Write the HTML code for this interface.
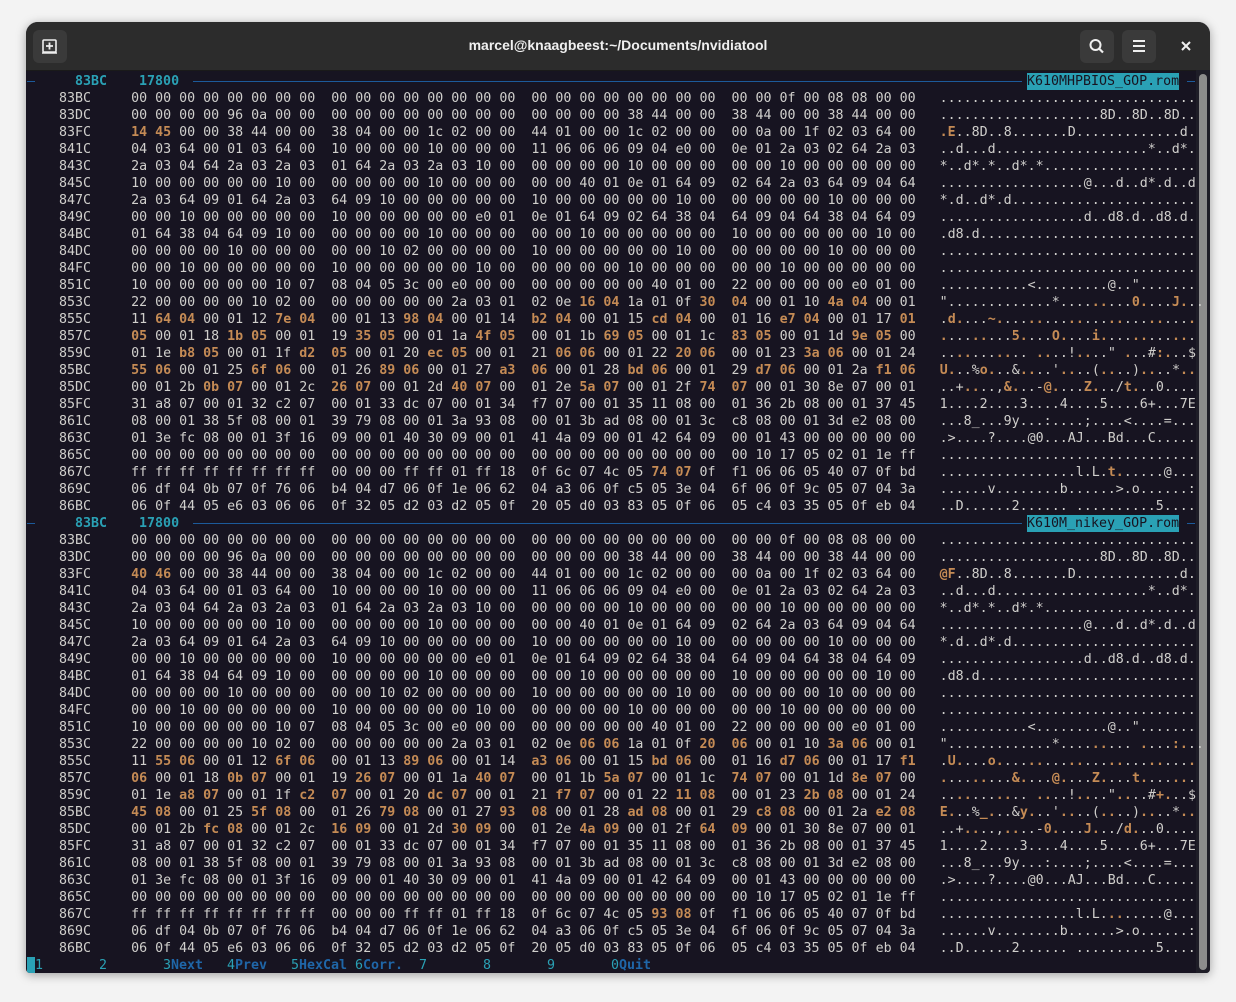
<!DOCTYPE html>
<html><head><meta charset="utf-8"><style>
html,body{margin:0;padding:0;background:#f3f3f3;width:1236px;height:1002px;overflow:hidden;}
#win{position:absolute;left:26px;top:22px;width:1184px;height:951px;background:#171421;border-radius:12px 12px 4px 4px;overflow:hidden;box-shadow:0 2px 10px rgba(0,0,0,.35);}
#tb{position:absolute;left:0;top:0;width:1184px;height:48px;background:#2c2c2c;border-bottom:1px solid #1a1a1a;}
#title{position:absolute;left:0;right:0;top:15px;text-align:center;color:#f0f0f0;font:bold 14px "Liberation Sans",sans-serif;}
.btn{position:absolute;top:8px;width:34px;height:33px;background:#3a3a3a;border-radius:6px;}
pre{position:absolute;left:1px;top:51px;margin:0;font-family:"DejaVu Sans Mono","Liberation Mono",monospace;font-size:13.3px;line-height:17px;color:#d0cfcc;white-space:pre;}
b{color:#c58b55;font-weight:bold;}
.hd{position:absolute;font-family:"DejaVu Sans Mono","Liberation Mono",monospace;font-size:13.3px;line-height:17px;font-weight:bold;color:#2aa1b5;white-space:pre;}
.ln{position:absolute;height:1px;background:#1c5a9a;}
.fn{position:absolute;font-family:"DejaVu Sans Mono","Liberation Mono",monospace;font-size:13.3px;line-height:17px;background:#2aa1b5;color:#171421;white-space:pre;}
.fk{position:absolute;top:935px;font-family:"DejaVu Sans Mono","Liberation Mono",monospace;font-size:13.3px;line-height:17px;white-space:pre;color:#2aa1b5;}
.fk i{font-style:normal;font-weight:bold;color:#1f66a8;}
</style></head><body>
<div id="win">
<div id="tb">
<div class="btn" style="left:7px;"><svg width="34" height="33"><rect x="10" y="10" width="13" height="12" rx="1" fill="none" stroke="#eee" stroke-width="1.6"/><line x1="9" y1="23" x2="24" y2="23" stroke="#eee" stroke-width="1.6"/><line x1="16.5" y1="12.5" x2="16.5" y2="19.5" stroke="#eee" stroke-width="1.8"/><line x1="13" y1="16" x2="20" y2="16" stroke="#eee" stroke-width="1.8"/></svg></div>
<div id="title">marcel@knaagbeest:~/Documents/nvidiatool</div>
<div class="btn" style="left:1054px;"><svg width="34" height="33"><circle cx="15.5" cy="15" r="5" fill="none" stroke="#eee" stroke-width="2"/><line x1="19" y1="18.5" x2="23" y2="22.5" stroke="#eee" stroke-width="2.2"/></svg></div>
<div class="btn" style="left:1096px;"><svg width="34" height="33"><rect x="11" y="10" width="12" height="2" fill="#eee"/><rect x="11" y="15" width="12" height="2" fill="#eee"/><rect x="11" y="20" width="12" height="2" fill="#eee"/></svg></div>
<svg style="position:absolute;left:1153px;top:17px" width="14" height="14"><line x1="3" y1="3" x2="11" y2="11" stroke="#eee" stroke-width="2"/><line x1="11" y1="3" x2="3" y2="11" stroke="#eee" stroke-width="2"/></svg>
</div>

<div class="ln" style="left:1px;top:59px;width:8px"></div>
<div class="hd" style="left:49px;top:51px">83BC    17800</div>
<div class="ln" style="left:167px;top:59px;width:829px"></div>
<div class="fn" style="left:1001px;top:51px">K610MHPBIOS_GOP.rom</div>
<div class="ln" style="left:1161px;top:59px;width:8px"></div>

<div class="ln" style="left:1px;top:501px;width:8px"></div>
<div class="hd" style="left:49px;top:493px">83BC    17800</div>
<div class="ln" style="left:167px;top:501px;width:829px"></div>
<div class="fn" style="left:1001px;top:493px">K610M_nikey_GOP.rom</div>
<div class="ln" style="left:1161px;top:501px;width:8px"></div>

<div style="position:absolute;left:1170px;top:48px;width:14px;height:903px;background:#1e1d27"></div>
<div style="position:absolute;left:1173px;top:52px;width:8px;height:896px;background:#8c8c8c;border-radius:4px"></div>

<pre>

    83BC     00 00 00 00 00 00 00 00  00 00 00 00 00 00 00 00  00 00 00 00 00 00 00 00  00 00 0f 00 08 08 00 00   ................................
    83DC     00 00 00 00 96 0a 00 00  00 00 00 00 00 00 00 00  00 00 00 00 38 44 00 00  38 44 00 00 38 44 00 00   ....................8D..8D..8D..
    83FC     <b>14 45</b> 00 00 38 44 00 00  38 04 00 00 1c 02 00 00  44 01 00 00 1c 02 00 00  00 0a 00 1f 02 03 64 00   <b>.E</b>..8D..8.......D.............d.
    841C     04 03 64 00 01 03 64 00  10 00 00 00 10 00 00 00  11 06 06 06 09 04 e0 00  0e 01 2a 03 02 64 2a 03   ..d...d...................*..d*.
    843C     2a 03 04 64 2a 03 2a 03  01 64 2a 03 2a 03 10 00  00 00 00 00 10 00 00 00  00 00 10 00 00 00 00 00   *..d*.*..d*.*...................
    845C     10 00 00 00 00 00 10 00  00 00 00 00 10 00 00 00  00 00 40 01 0e 01 64 09  02 64 2a 03 64 09 04 64   ..................@...d..d*.d..d
    847C     2a 03 64 09 01 64 2a 03  64 09 10 00 00 00 00 00  10 00 00 00 00 00 10 00  00 00 00 00 10 00 00 00   *.d..d*.d.......................
    849C     00 00 10 00 00 00 00 00  10 00 00 00 00 00 e0 01  0e 01 64 09 02 64 38 04  64 09 04 64 38 04 64 09   ..................d..d8.d..d8.d.
    84BC     01 64 38 04 64 09 10 00  00 00 00 00 10 00 00 00  00 00 10 00 00 00 00 00  10 00 00 00 00 00 10 00   .d8.d...........................
    84DC     00 00 00 00 10 00 00 00  00 00 10 02 00 00 00 00  10 00 00 00 00 00 10 00  00 00 00 00 10 00 00 00   ................................
    84FC     00 00 10 00 00 00 00 00  10 00 00 00 00 00 10 00  00 00 00 00 10 00 00 00  00 00 10 00 00 00 00 00   ................................
    851C     10 00 00 00 00 00 10 07  08 04 05 3c 00 e0 00 00  00 00 00 00 00 40 01 00  22 00 00 00 00 e0 01 00   ...........&lt;.........@..".......
    853C     22 00 00 00 00 10 02 00  00 00 00 00 00 2a 03 01  02 0e <b>16 04</b> 1a 01 0f <b>30</b>  <b>04</b> 00 01 10 <b>4a 04</b> 00 01   ".............*....<b>..</b>...<b>0</b><b>.</b>...<b>J.</b>..
    855C     11 <b>64 04</b> 00 01 12 <b>7e 04</b>  00 01 13 <b>98 04</b> 00 01 14  <b>b2 04</b> 00 01 15 <b>cd 04</b> 00  01 16 <b>e7 04</b> 00 01 17 <b>01</b>   .<b>d.</b>...<b>~.</b>...<b>..</b>...<b>..</b>...<b>..</b>...<b>..</b>...<b>.</b>
    857C     <b>05</b> 00 01 18 <b>1b 05</b> 00 01  19 <b>35 05</b> 00 01 1a <b>4f 05</b>  00 01 1b <b>69 05</b> 00 01 1c  <b>83 05</b> 00 01 1d <b>9e 05</b> 00   <b>.</b>...<b>..</b>...<b>5.</b>...<b>O.</b>...<b>i.</b>...<b>..</b>...<b>..</b>.
    859C     01 1e <b>b8 05</b> 00 01 1f <b>d2</b>  <b>05</b> 00 01 20 <b>ec 05</b> 00 01  21 <b>06 06</b> 00 01 22 <b>20 06</b>  00 01 23 <b>3a 06</b> 00 01 24   ..<b>..</b>...<b>.</b><b>.</b>.. <b>..</b>..!<b>..</b>.."<b> .</b>..#<b>:.</b>..$
    85BC     <b>55 06</b> 00 01 25 <b>6f 06</b> 00  01 26 <b>89 06</b> 00 01 27 <b>a3</b>  <b>06</b> 00 01 28 <b>bd 06</b> 00 01  29 <b>d7 06</b> 00 01 2a <b>f1 06</b>   <b>U.</b>..%<b>o.</b>..&amp;<b>..</b>..'<b>.</b><b>.</b>..(<b>..</b>..)<b>..</b>..*<b>..</b>
    85DC     00 01 2b <b>0b 07</b> 00 01 2c  <b>26 07</b> 00 01 2d <b>40 07</b> 00  01 2e <b>5a 07</b> 00 01 2f <b>74</b>  <b>07</b> 00 01 30 8e 07 00 01   ..+<b>..</b>..,<b>&amp;.</b>..-<b>@.</b>...<b>Z.</b>../<b>t</b><b>.</b>..0....
    85FC     31 a8 07 00 01 32 c2 07  00 01 33 dc 07 00 01 34  f7 07 00 01 35 11 08 00  01 36 2b 08 00 01 37 45   1....2....3....4....5....6+...7E
    861C     08 00 01 38 5f 08 00 01  39 79 08 00 01 3a 93 08  00 01 3b ad 08 00 01 3c  c8 08 00 01 3d e2 08 00   ...8_...9y...:....;....&lt;....=...
    863C     01 3e fc 08 00 01 3f 16  09 00 01 40 30 09 00 01  41 4a 09 00 01 42 64 09  00 01 43 00 00 00 00 00   .&gt;....?....@0...AJ...Bd...C.....
    865C     00 00 00 00 00 00 00 00  00 00 00 00 00 00 00 00  00 00 00 00 00 00 00 00  00 10 17 05 02 01 1e ff   ................................
    867C     ff ff ff ff ff ff ff ff  00 00 00 ff ff 01 ff 18  0f 6c 07 4c 05 <b>74 07</b> 0f  f1 06 06 05 40 07 0f bd   .................l.L.<b>t.</b>.....@...
    869C     06 df 04 0b 07 0f 76 06  b4 04 d7 06 0f 1e 06 62  04 a3 06 0f c5 05 3e 04  6f 06 0f 9c 05 07 04 3a   ......v........b......&gt;.o......:
    86BC     06 0f 44 05 e6 03 06 06  0f 32 05 d2 03 d2 05 0f  20 05 d0 03 83 05 0f 06  05 c4 03 35 05 0f eb 04   ..D......2...... ..........5....

    83BC     00 00 00 00 00 00 00 00  00 00 00 00 00 00 00 00  00 00 00 00 00 00 00 00  00 00 0f 00 08 08 00 00   ................................
    83DC     00 00 00 00 96 0a 00 00  00 00 00 00 00 00 00 00  00 00 00 00 38 44 00 00  38 44 00 00 38 44 00 00   ....................8D..8D..8D..
    83FC     <b>40 46</b> 00 00 38 44 00 00  38 04 00 00 1c 02 00 00  44 01 00 00 1c 02 00 00  00 0a 00 1f 02 03 64 00   <b>@F</b>..8D..8.......D.............d.
    841C     04 03 64 00 01 03 64 00  10 00 00 00 10 00 00 00  11 06 06 06 09 04 e0 00  0e 01 2a 03 02 64 2a 03   ..d...d...................*..d*.
    843C     2a 03 04 64 2a 03 2a 03  01 64 2a 03 2a 03 10 00  00 00 00 00 10 00 00 00  00 00 10 00 00 00 00 00   *..d*.*..d*.*...................
    845C     10 00 00 00 00 00 10 00  00 00 00 00 10 00 00 00  00 00 40 01 0e 01 64 09  02 64 2a 03 64 09 04 64   ..................@...d..d*.d..d
    847C     2a 03 64 09 01 64 2a 03  64 09 10 00 00 00 00 00  10 00 00 00 00 00 10 00  00 00 00 00 10 00 00 00   *.d..d*.d.......................
    849C     00 00 10 00 00 00 00 00  10 00 00 00 00 00 e0 01  0e 01 64 09 02 64 38 04  64 09 04 64 38 04 64 09   ..................d..d8.d..d8.d.
    84BC     01 64 38 04 64 09 10 00  00 00 00 00 10 00 00 00  00 00 10 00 00 00 00 00  10 00 00 00 00 00 10 00   .d8.d...........................
    84DC     00 00 00 00 10 00 00 00  00 00 10 02 00 00 00 00  10 00 00 00 00 00 10 00  00 00 00 00 10 00 00 00   ................................
    84FC     00 00 10 00 00 00 00 00  10 00 00 00 00 00 10 00  00 00 00 00 10 00 00 00  00 00 10 00 00 00 00 00   ................................
    851C     10 00 00 00 00 00 10 07  08 04 05 3c 00 e0 00 00  00 00 00 00 00 40 01 00  22 00 00 00 00 e0 01 00   ...........&lt;.........@..".......
    853C     22 00 00 00 00 10 02 00  00 00 00 00 00 2a 03 01  02 0e <b>06 06</b> 1a 01 0f <b>20</b>  <b>06</b> 00 01 10 <b>3a 06</b> 00 01   ".............*....<b>..</b>...<b> </b><b>.</b>...<b>:.</b>..
    855C     11 <b>55 06</b> 00 01 12 <b>6f 06</b>  00 01 13 <b>89 06</b> 00 01 14  <b>a3 06</b> 00 01 15 <b>bd 06</b> 00  01 16 <b>d7 06</b> 00 01 17 <b>f1</b>   .<b>U.</b>...<b>o.</b>...<b>..</b>...<b>..</b>...<b>..</b>...<b>..</b>...<b>.</b>
    857C     <b>06</b> 00 01 18 <b>0b 07</b> 00 01  19 <b>26 07</b> 00 01 1a <b>40 07</b>  00 01 1b <b>5a 07</b> 00 01 1c  <b>74 07</b> 00 01 1d <b>8e 07</b> 00   <b>.</b>...<b>..</b>...<b>&amp;.</b>...<b>@.</b>...<b>Z.</b>...<b>t.</b>...<b>..</b>.
    859C     01 1e <b>a8 07</b> 00 01 1f <b>c2</b>  <b>07</b> 00 01 20 <b>dc 07</b> 00 01  21 <b>f7 07</b> 00 01 22 <b>11 08</b>  00 01 23 <b>2b 08</b> 00 01 24   ..<b>..</b>...<b>.</b><b>.</b>.. <b>..</b>..!<b>..</b>.."<b>..</b>..#<b>+.</b>..$
    85BC     <b>45 08</b> 00 01 25 <b>5f 08</b> 00  01 26 <b>79 08</b> 00 01 27 <b>93</b>  <b>08</b> 00 01 28 <b>ad 08</b> 00 01  29 <b>c8 08</b> 00 01 2a <b>e2 08</b>   <b>E.</b>..%<b>_.</b>..&amp;<b>y.</b>..'<b>.</b><b>.</b>..(<b>..</b>..)<b>..</b>..*<b>..</b>
    85DC     00 01 2b <b>fc 08</b> 00 01 2c  <b>16 09</b> 00 01 2d <b>30 09</b> 00  01 2e <b>4a 09</b> 00 01 2f <b>64</b>  <b>09</b> 00 01 30 8e 07 00 01   ..+<b>..</b>..,<b>..</b>..-<b>0.</b>...<b>J.</b>../<b>d</b><b>.</b>..0....
    85FC     31 a8 07 00 01 32 c2 07  00 01 33 dc 07 00 01 34  f7 07 00 01 35 11 08 00  01 36 2b 08 00 01 37 45   1....2....3....4....5....6+...7E
    861C     08 00 01 38 5f 08 00 01  39 79 08 00 01 3a 93 08  00 01 3b ad 08 00 01 3c  c8 08 00 01 3d e2 08 00   ...8_...9y...:....;....&lt;....=...
    863C     01 3e fc 08 00 01 3f 16  09 00 01 40 30 09 00 01  41 4a 09 00 01 42 64 09  00 01 43 00 00 00 00 00   .&gt;....?....@0...AJ...Bd...C.....
    865C     00 00 00 00 00 00 00 00  00 00 00 00 00 00 00 00  00 00 00 00 00 00 00 00  00 10 17 05 02 01 1e ff   ................................
    867C     ff ff ff ff ff ff ff ff  00 00 00 ff ff 01 ff 18  0f 6c 07 4c 05 <b>93 08</b> 0f  f1 06 06 05 40 07 0f bd   .................l.L.<b>..</b>.....@...
    869C     06 df 04 0b 07 0f 76 06  b4 04 d7 06 0f 1e 06 62  04 a3 06 0f c5 05 3e 04  6f 06 0f 9c 05 07 04 3a   ......v........b......&gt;.o......:
    86BC     06 0f 44 05 e6 03 06 06  0f 32 05 d2 03 d2 05 0f  20 05 d0 03 83 05 0f 06  05 c4 03 35 05 0f eb 04   ..D......2...... ..........5....
</pre>

<div style="position:absolute;left:1px;top:935px;width:8px;height:17px;background:#2aa1b5"></div>
<div class="fk" style="left:9px">1</div>
<div class="fk" style="left:73px">2</div>
<div class="fk" style="left:137px">3<i>Next</i></div>
<div class="fk" style="left:201px">4<i>Prev</i></div>
<div class="fk" style="left:265px">5<i>HexCal</i></div>
<div class="fk" style="left:329px">6<i>Corr.</i></div>
<div class="fk" style="left:393px">7</div>
<div class="fk" style="left:457px">8</div>
<div class="fk" style="left:521px">9</div>
<div class="fk" style="left:585px">0<i>Quit</i></div>
</div>
</body></html>
